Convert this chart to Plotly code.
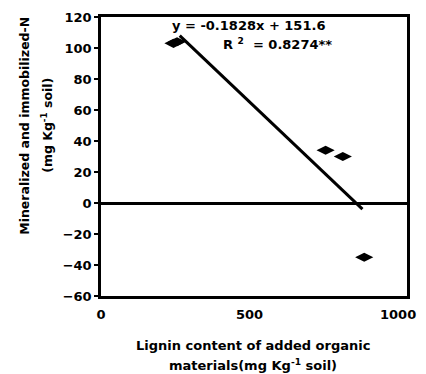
import plotly.graph_objects as go

lignin = [244, 256, 756, 814, 886]
n_values = [103, 104, 34, 30, -35]
trend_x = [265, 880]
trend_y = [108, -4]
y_ticks = [-60, -40, -20, 0, 20, 40, 60, 80, 100, 120]
x_ticks = [0, 500, 1000]

FAM = "DejaVu Sans, Liberation Sans, sans-serif"
font = dict(family=FAM, size=13, color="black", weight="bold")

fig = go.Figure()
fig.add_trace(go.Scatter(x=trend_x, y=trend_y, mode="lines",
                         line=dict(color="black", width=3), showlegend=False))
fig.add_trace(go.Scatter(x=lignin, y=n_values, mode="markers",
                         marker=dict(symbol="diamond-wide", size=13, color="black"),
                         showlegend=False))

fig.update_layout(
    width=426, height=374,
    margin=dict(l=101, r=10, t=16, b=78),
    paper_bgcolor="white", plot_bgcolor="white",
    font=font,
    xaxis=dict(range=[0, 1030], tickvals=x_ticks,
               showgrid=False, zeroline=False, showline=True, linecolor="black", linewidth=2.5,
               mirror=True, ticks="", ticklabelstandoff=5, tickfont=font),
    yaxis=dict(range=[-60, 120], tickvals=y_ticks,
               showgrid=False, zeroline=True, zerolinecolor="black", zerolinewidth=2.5,
               showline=True, linecolor="black", linewidth=2.5, mirror=True,
               ticks="outside", ticklen=4, tickcolor="black", tickwidth=1.5,
               tickfont=font),
)

tfont = dict(family=FAM, size=13, color="black", weight="bold")
yfont = dict(family=FAM, size=12.5, color="black", weight="bold")
fig.add_annotation(xref="paper", yref="paper", x=0.498, y=0, yshift=-49, yanchor="middle",
                   text="Lignin content of added organic", showarrow=False, font=tfont)
fig.add_annotation(xref="paper", yref="paper", x=0.498, y=0, yshift=-69, yanchor="middle",
                   text="materials(mg Kg<sup>-1</sup> soil)", showarrow=False, font=tfont)
fig.add_annotation(xref="paper", yref="paper", x=0, xshift=-76, y=0.61, textangle=-90,
                   xanchor="center", yanchor="middle",
                   text="Mineralized and immobilized-N", showarrow=False, font=yfont)
fig.add_annotation(xref="paper", yref="paper", x=0, xshift=-54, y=0.61, textangle=-90,
                   xanchor="center", yanchor="middle",
                   text="(mg Kg<sup>-1</sup> soil)", showarrow=False, font=yfont)
fig.add_annotation(xref="paper", yref="paper", x=0.482, y=0.968, xanchor="center", yanchor="middle",
                   text="y = -0.1828x + 151.6", showarrow=False, font=tfont)
fig.add_annotation(xref="paper", yref="paper", x=0.578, y=0.904, xanchor="center", yanchor="middle",
                   text="R <sup>2</sup>  = 0.8274**", showarrow=False, font=tfont)

fig.write_html("out.html", config={"displayModeBar": False},
               post_script="document.body.style.margin='0';document.body.style.overflow='hidden';")
